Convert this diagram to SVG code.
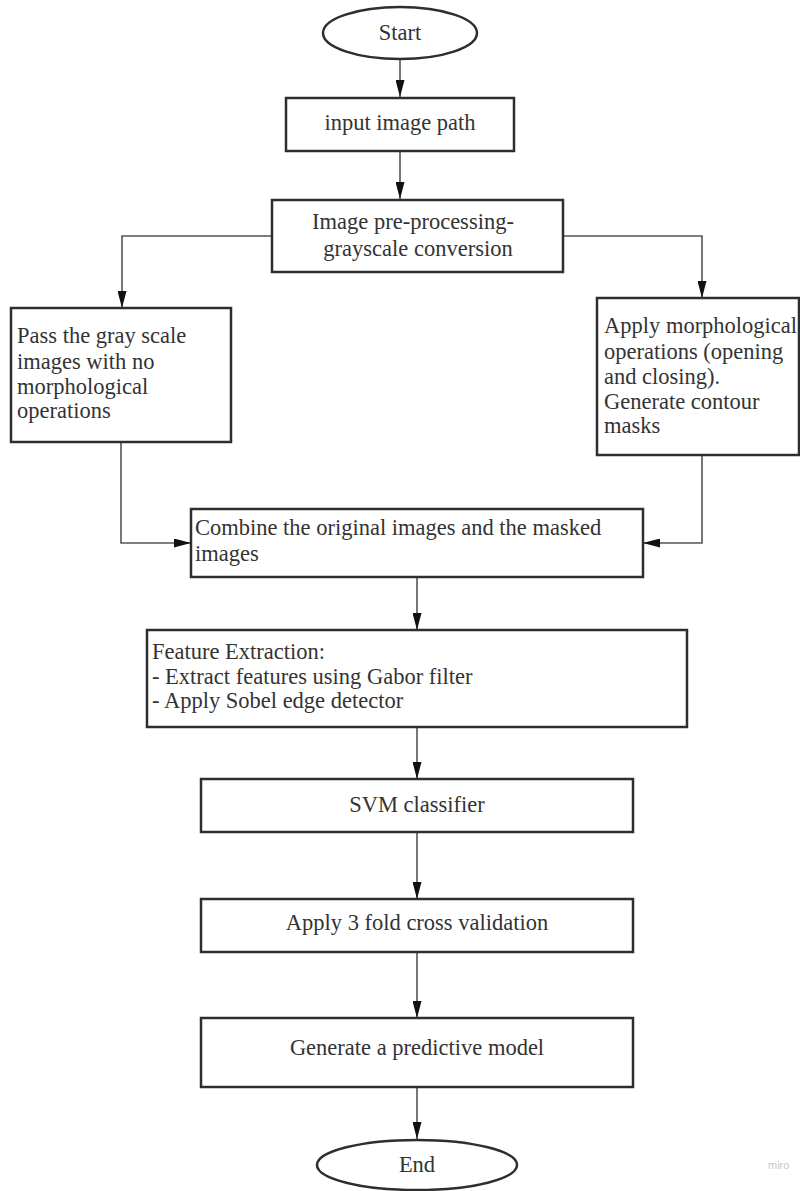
<svg xmlns="http://www.w3.org/2000/svg" width="800" height="1191" viewBox="0 0 800 1191">
  <style>
    .shape { fill: #ffffff; stroke: #2e2e2e; stroke-width: 2.5; }
    .lbl { font-family: "Liberation Serif", "Times New Roman", serif; font-size: 22.5px; fill: #333333; }
    .mid { text-anchor: middle; }
    .conn { fill: none; stroke: #555555; stroke-width: 1.6; }
    .mark { font-family: "Liberation Sans", Arial, sans-serif; font-size: 11px; fill: #c8c8c8; }
  </style>
  <defs>
    <!-- slim filled arrowhead shared by all connectors -->
    <marker id="arrow" viewBox="0 0 17 9" refX="17" refY="4.5" markerWidth="17" markerHeight="9" markerUnits="userSpaceOnUse" orient="auto">
      <path d="M0,0 L17,4.5 L0,9 z" fill="#111111"/>
    </marker>
  </defs>
  <rect width="800" height="1191" fill="#ffffff"/>

  <!-- connectors -->
  <g id="connectors">
    <line class="conn" x1="400" y1="60" x2="400" y2="97" marker-end="url(#arrow)"/>
    <line class="conn" x1="400" y1="151" x2="400" y2="199" marker-end="url(#arrow)"/>
    <polyline class="conn" points="272,236 122,236 122,308" marker-end="url(#arrow)"/>
    <polyline class="conn" points="563,236 702,236 702,298" marker-end="url(#arrow)"/>
    <polyline class="conn" points="121,442 121,543 191,543" marker-end="url(#arrow)"/>
    <polyline class="conn" points="702,455 702,543 643,543" marker-end="url(#arrow)"/>
    <line class="conn" x1="417" y1="577" x2="417" y2="630" marker-end="url(#arrow)"/>
    <line class="conn" x1="417" y1="727" x2="417" y2="779" marker-end="url(#arrow)"/>
    <line class="conn" x1="417" y1="832" x2="417" y2="899" marker-end="url(#arrow)"/>
    <line class="conn" x1="417" y1="952" x2="417" y2="1018" marker-end="url(#arrow)"/>
    <line class="conn" x1="417" y1="1087" x2="417" y2="1139" marker-end="url(#arrow)"/>
  </g>

  <g id="start">
    <ellipse class="shape" cx="400" cy="33" rx="77" ry="26"/>
    <text class="lbl mid" x="400" y="40">Start</text>
  </g>

  <g id="input-path">
    <rect class="shape" x="286" y="98" width="228" height="53"/>
    <text class="lbl mid" x="400" y="130">input image path</text>
  </g>

  <g id="preprocess">
    <rect class="shape" x="272" y="200" width="291" height="72"/>
    <text class="lbl mid" x="413" y="229">Image pre-processing-</text>
    <text class="lbl mid" x="418" y="256">grayscale conversion</text>
  </g>

  <g id="gray-pass">
    <rect class="shape" x="11" y="308" width="220" height="134"/>
    <text class="lbl" x="17" y="343">Pass the gray scale</text>
    <text class="lbl" x="17" y="369">images with no</text>
    <text class="lbl" x="17" y="394">morphological</text>
    <text class="lbl" x="17" y="418">operations</text>
  </g>

  <g id="morphology">
    <rect class="shape" x="597" y="298" width="202" height="157"/>
    <text class="lbl" x="604" y="333">Apply morphological</text>
    <text class="lbl" x="604" y="359">operations (opening</text>
    <text class="lbl" x="604" y="384">and closing).</text>
    <text class="lbl" x="604" y="409">Generate contour</text>
    <text class="lbl" x="604" y="433">masks</text>
  </g>

  <g id="combine">
    <rect class="shape" x="191" y="509" width="452" height="68"/>
    <text class="lbl" x="195" y="535">Combine the original images and the masked</text>
    <text class="lbl" x="195" y="561">images</text>
  </g>

  <g id="features">
    <rect class="shape" x="147" y="630" width="540" height="97"/>
    <text class="lbl" x="152" y="659">Feature Extraction:</text>
    <text class="lbl" x="152" y="684">- Extract features using Gabor filter</text>
    <text class="lbl" x="152" y="708">- Apply Sobel edge detector</text>
  </g>

  <g id="svm">
    <rect class="shape" x="201" y="779" width="432" height="53"/>
    <text class="lbl mid" x="417" y="812">SVM classifier</text>
  </g>

  <g id="cross-validation">
    <rect class="shape" x="201" y="899" width="432" height="53"/>
    <text class="lbl mid" x="417" y="930">Apply 3 fold cross validation</text>
  </g>

  <g id="model">
    <rect class="shape" x="201" y="1018" width="432" height="69"/>
    <text class="lbl mid" x="417" y="1055">Generate a predictive model</text>
  </g>

  <g id="end">
    <ellipse class="shape" cx="417" cy="1165" rx="100" ry="25"/>
    <text class="lbl mid" x="417" y="1172">End</text>
  </g>

  <text class="mark" x="768" y="1169">miro</text>
</svg>
